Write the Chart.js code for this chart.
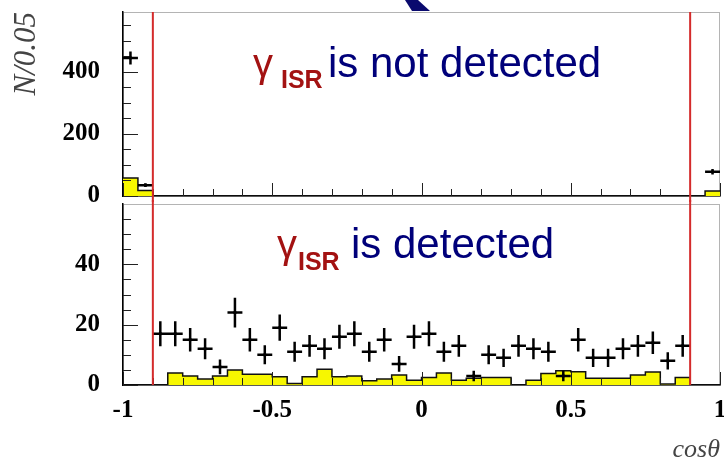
<!DOCTYPE html>
<html>
<head>
<meta charset="utf-8">
<script src="https://cdn.jsdelivr.net/npm/chart.js@4.4.1/dist/chart.umd.min.js"></script>
<style>
  html, body { margin: 0; padding: 0; background: #fff; }
  #wrap { position: relative; width: 724px; height: 457px; overflow: hidden; }
  #wrap canvas { position: absolute; left: 0; }
  #arriba { top: 0; z-index: 2; }
  #abajo { top: 200px; z-index: 1; }
</style>
</head>
<body>
<div id="wrap">
  <canvas id="abajo" width="724" height="257"></canvas>
  <canvas id="arriba" width="724" height="215"></canvas>
</div>
<script>
// bordes de los bins en cos(theta), ancho 0.05
const bordes = [-1, -0.95, -0.9, -0.85, -0.8, -0.75, -0.7, -0.65, -0.6, -0.55,
  -0.5, -0.45, -0.4, -0.35, -0.3, -0.25, -0.2, -0.15, -0.1, -0.05,
  0, 0.05, 0.1, 0.15, 0.2, 0.25, 0.3, 0.35, 0.4, 0.45,
  0.5, 0.55, 0.6, 0.65, 0.7, 0.75, 0.8, 0.85, 0.9, 0.95, 1];

// panel de arriba: gamma ISR no detectado
const centrosArriba = [-0.975, -0.925, 0.975];
const datosArriba = [445, 35, 78];
const mcArriba = [58, 18, 0, 0, 0, 0, 0, 0, 0, 0,
  0, 0, 0, 0, 0, 0, 0, 0, 0, 0,
  0, 0, 0, 0, 0, 0, 0, 0, 0, 0,
  0, 0, 0, 0, 0, 0, 0, 0, 0, 16];

// panel de abajo: gamma ISR detectado
const centrosAbajo = [-0.875, -0.825, -0.775, -0.725, -0.675, -0.625, -0.575, -0.525, -0.475, -0.425,
  -0.375, -0.325, -0.275, -0.225, -0.175, -0.125, -0.075, -0.025, 0.025, 0.075,
  0.125, 0.175, 0.225, 0.275, 0.325, 0.375, 0.425, 0.475, 0.525, 0.575,
  0.625, 0.675, 0.725, 0.775, 0.825, 0.875];
const datosAbajo = [17, 17, 15, 12, 6, 24, 15, 10, 19, 11,
  13, 12, 16, 17, 11, 15, 7, 16, 17, 11,
  13, 3, 10, 9, 13, 12, 11, 3, 15, 9,
  9, 12, 13, 14, 8, 13];
const mcAbajo = [0, 0, 0, 4, 3, 2, 3, 5, 3.6, 3.6,
  2.7, 0.5, 2.7, 5.2, 2.7, 3, 1.4, 2, 3.3, 1.6,
  2.5, 4, 1.6, 2.2, 2.5, 2.5, 0, 1.6, 3.8, 4.7,
  4.4, 2.2, 2.2, 2.2, 3.3, 4.3, 0.3, 2.5, 0, 0];

const cortes = [-0.9, 0.9];
const ticksX = [-1, -0.5, 0, 0.5, 1];
const ticksYArriba = [0, 200, 400];
const ticksYAbajo = [0, 20, 40];

const fuenteEje = { family: '"Liberation Serif", "Times New Roman", serif', size: 25, weight: 'bold', lineHeight: 1.2 };

// cosas que dibuja el plugin en cada panel
const extras = {
  arriba: {
    pasoMenor: 50, pasoMayor: 200, rojoExtra: 6, rojoDesde: null,
    texto: { xg: 253, xi: 281, xt: 328, base: 77, baseSub: 88, frase: 'is not detected' },
    flecha: true
  },
  abajo: {
    pasoMenor: 5, pasoMayor: 20, rojoExtra: 0, rojoDesde: 0,
    texto: { xg: 277, xi: 298, xt: 351, base: 58, baseSub: 70, frase: 'is detected' },
    flecha: false
  }
};

const panelPlugin = {
  id: 'panel',
  beforeDraw(chart) {
    const { ctx, chartArea: ca } = chart;
    ctx.save();
    ctx.strokeStyle = '#b4b4b4';
    ctx.lineWidth = 1;
    ctx.strokeRect(ca.left + 0.5, ca.top + 0.5, ca.right - ca.left - 1, ca.bottom - ca.top);
    ctx.restore();
  },
  afterDatasetsDraw(chart) {
    const ex = extras[chart.canvas.id];
    const { ctx, chartArea: ca } = chart;
    const x = chart.scales.x;
    const y = chart.scales.y;
    ctx.save();

    // marcas de los ejes (mayores y menores)
    ctx.strokeStyle = '#222';
    ctx.lineWidth = 1;
    ctx.beginPath();
    for (let i = 0; i <= 20; i++) {
      const px = Math.round(x.getPixelForValue(-1 + i * 0.1)) + 0.5;
      const largo = i % 5 === 0 ? 13 : 7;
      ctx.moveTo(px, ca.bottom);
      ctx.lineTo(px, ca.bottom - largo);
    }
    for (let v = 0; v < y.max; v += ex.pasoMenor) {
      const py = Math.round(y.getPixelForValue(v)) + 0.5;
      const largo = v % ex.pasoMayor === 0 ? 15 : 8;
      ctx.moveTo(ca.left, py);
      ctx.lineTo(ca.left + largo, py);
    }
    ctx.stroke();

    // barras de error de los datos: sqrt(N) en vertical, ancho del bin en horizontal
    ctx.strokeStyle = '#000';
    ctx.lineWidth = 2.5;
    ctx.beginPath();
    chart.data.datasets[0].data.forEach((p) => {
      const err = Math.sqrt(p.y);
      const xc = x.getPixelForValue(p.x);
      const yc = y.getPixelForValue(p.y);
      const xa = Math.max(x.getPixelForValue(p.x - 0.025), ca.left);
      const xb = Math.min(x.getPixelForValue(p.x + 0.025), ca.right);
      ctx.moveTo(xa, yc);
      ctx.lineTo(xb, yc);
      ctx.moveTo(xc, y.getPixelForValue(p.y + err));
      ctx.lineTo(xc, y.getPixelForValue(Math.max(p.y - err, 0)));
    });
    ctx.stroke();

    // cortes en +-0.9
    ctx.strokeStyle = '#d42b2b';
    ctx.lineWidth = 2;
    ctx.beginPath();
    cortes.forEach((c) => {
      const px = x.getPixelForValue(c);
      const y0 = ex.rojoDesde === null ? ca.top : ex.rojoDesde;
      ctx.moveTo(px, y0);
      ctx.lineTo(px, ca.bottom + ex.rojoExtra);
    });
    ctx.stroke();

    // texto
    const t = ex.texto;
    ctx.textAlign = 'left';
    ctx.textBaseline = 'alphabetic';
    ctx.fillStyle = '#a31212';
    ctx.font = '40px "Liberation Sans", Arial, sans-serif';
    ctx.fillText('γ', t.xg, t.base);
    ctx.font = 'bold 25px "Liberation Sans", Arial, sans-serif';
    ctx.fillText('ISR', t.xi, t.baseSub);
    ctx.fillStyle = '#00007a';
    ctx.font = '42px "Liberation Sans", Arial, sans-serif';
    ctx.fillText(t.frase, t.xt, t.base);

    // punta de la flecha que entra por arriba
    if (ex.flecha) {
      ctx.fillStyle = '#0a0a6e';
      ctx.beginPath();
      ctx.moveTo(405, 0);
      ctx.lineTo(418, 0);
      ctx.lineTo(430, 11);
      ctx.lineTo(412, 11);
      ctx.closePath();
      ctx.fill();
    }
    ctx.restore();
  }
};

function hacerHisto(valores) {
  return bordes.map((b, i) => ({ x: b, y: valores[Math.min(i, valores.length - 1)] }));
}

function hacerPuntos(centros, valores) {
  return centros.map((c, i) => ({ x: c, y: valores[i] }));
}

function crearPanel(id, puntos, histo, ymax, ticksY, conf) {
  return new Chart(document.getElementById(id), {
    type: 'scatter',
    data: {
      datasets: [
        {
          type: 'scatter',
          data: puntos,
          pointStyle: 'rect',
          pointRadius: 2,
          backgroundColor: '#000',
          borderWidth: 0
        },
        {
          type: 'line',
          data: histo,
          stepped: 'before',
          fill: 'origin',
          backgroundColor: '#f7f700',
          borderColor: '#111',
          borderWidth: 1.5,
          pointRadius: 0
        }
      ]
    },
    options: {
      responsive: false,
      devicePixelRatio: 1,
      animation: false,
      layout: { padding: { top: conf.padTop, right: 3, left: 0, bottom: 0 } },
      plugins: { legend: { display: false }, tooltip: { enabled: false } },
      scales: {
        x: {
          type: 'linear',
          min: -1,
          max: 1,
          grid: { display: true, drawOnChartArea: false, drawTicks: false, color: 'rgba(0,0,0,0)' },
          border: { display: true, color: '#000', width: 1.5 },
          ticks: {
            display: conf.etiquetasX,
            font: fuenteEje,
            color: '#000',
            padding: 11,
            callback: (v) => String(v)
          },
          title: conf.tituloX,
          afterBuildTicks: (s) => { s.ticks = ticksX.map((v) => ({ value: v })); },
          afterFit: (s) => { s.height = conf.altoX; s.paddingLeft = 0; s.paddingRight = 0; }
        },
        y: {
          min: 0,
          max: ymax,
          grid: { display: true, drawOnChartArea: false, drawTicks: false, color: 'rgba(0,0,0,0)' },
          border: { display: true, color: '#000', width: 1.5 },
          ticks: { font: fuenteEje, color: '#000', padding: 23 },
          title: conf.tituloY,
          afterBuildTicks: (s) => { s.ticks = ticksY.map((v) => ({ value: v })); },
          afterFit: (s) => { s.width = 123; s.paddingTop = 0; s.paddingBottom = 0; }
        }
      }
    },
    plugins: [panelPlugin]
  });
}

crearPanel('arriba', hacerPuntos(centrosArriba, datosArriba), hacerHisto(mcArriba), 593, ticksYArriba, {
  padTop: 12,
  altoX: 19,
  etiquetasX: false,
  tituloX: { display: false },
  tituloY: {
    display: true,
    text: 'N/0.05',
    align: 'end',
    color: '#444',
    font: { family: '"Liberation Serif", "Times New Roman", serif', size: 31, style: 'italic', lineHeight: 1 },
    padding: { top: 11, bottom: 0 }
  }
});

crearPanel('abajo', hacerPuntos(centrosAbajo, datosAbajo), hacerHisto(mcAbajo), 60, ticksYAbajo, {
  padTop: 2,
  altoX: 72,
  etiquetasX: true,
  tituloX: {
    display: true,
    text: 'cosθ',
    align: 'end',
    color: '#444',
    font: { family: '"Liberation Serif", "Times New Roman", serif', size: 26, style: 'italic', lineHeight: 1 },
    padding: { top: 0, bottom: -6 }
  },
  tituloY: { display: false }
});
</script>
</body>
</html>
